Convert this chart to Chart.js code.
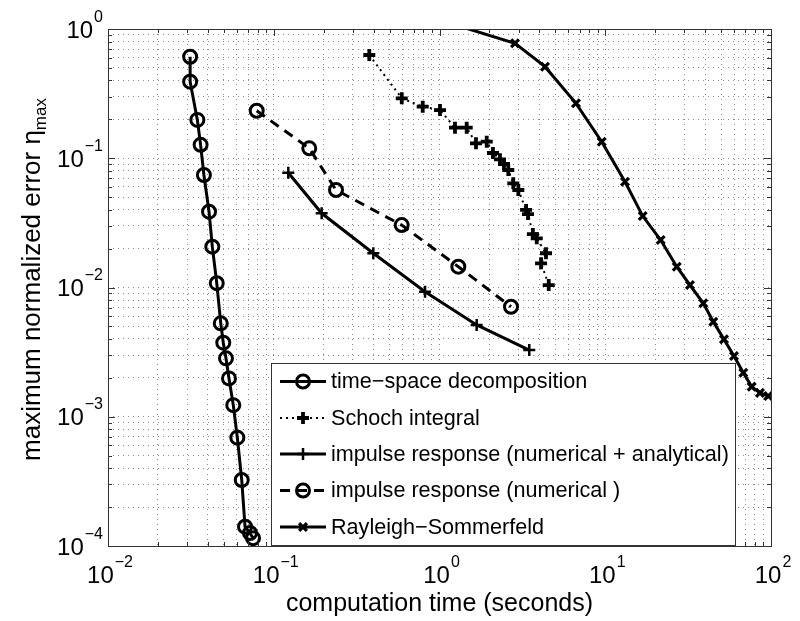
<!DOCTYPE html>
<html>
<head>
<meta charset="utf-8">
<script src="https://cdn.jsdelivr.net/npm/chart.js@4.4.0/dist/chart.umd.min.js"></script>
<style>
	html, body { margin:0; padding:0; background:#fff; }
	#wrap { width:800px; height:621px; }
</style>
</head>
<body>
<div id="wrap"><canvas id="errChart" width="800" height="621"></canvas></div>
<script>
// values (time in seconds, error eta_max)
const tsdTime = [0.0313, 0.0313, 0.0346, 0.0362, 0.0379, 0.0407, 0.0426, 0.0453, 0.0479, 0.0496, 0.0515, 0.0537, 0.0570, 0.0603, 0.0641, 0.0671, 0.0719, 0.0750];
const tsdErr = [0.61, 0.391, 0.198, 0.127, 0.0742, 0.0386, 0.0207, 0.0108, 0.00528, 0.00374, 0.00283, 0.00198, 0.00123, 0.000689, 0.000324, 0.000141, 0.000126, 0.000115];

const schochTime = [0.377, 0.592, 0.792, 1.007, 1.24, 1.459, 1.66, 1.927, 2.102, 2.317, 2.449, 2.60, 2.787, 2.99, 3.33, 3.42, 3.66, 3.86, 4.39, 4.10, 4.56];
const schochErr = [0.629, 0.291, 0.2505, 0.236, 0.1723, 0.1723, 0.1305, 0.1343, 0.1098, 0.0981, 0.0903, 0.0811, 0.064, 0.0568, 0.0398, 0.0370, 0.0259, 0.024, 0.0184, 0.01539, 0.01045];

const irnaTime = [0.1224, 0.1946, 0.3987, 0.818, 1.676, 3.48];
const irnaErr = [0.0773, 0.0375, 0.0184, 0.00928, 0.00513, 0.00328];

const irnTime = [0.0789, 0.1638, 0.2375, 0.5915, 1.299, 2.70];
const irnErr = [0.233, 0.1194, 0.0568, 0.0304, 0.01449, 0.0071];

// first point sits above the top of the axes (line enters from outside)
const rsTime = [0.762, 2.855, 4.33, 6.66, 9.52, 13.16, 16.83, 21.6, 27.0, 32.45, 39.06, 44.87, 52.05, 59.8, 68.07, 76.44, 85.8, 96.3];
const rsErr = [1.306, 0.775, 0.511, 0.266, 0.1343, 0.0658, 0.0357, 0.0233, 0.01449, 0.01045, 0.00755, 0.00544, 0.00397, 0.00295, 0.00219, 0.00171, 0.00153, 0.001447];

const seriesLabels = [
	'time\u2212space decomposition',
	'Schoch integral',
	'impulse response (numerical + analytical)',
	'impulse response (numerical )',
	'Rayleigh\u2212Sommerfeld'
];
const xExps = [-2, -1, 0, 1, 2];
const yExps = [-4, -3, -2, -1, 0];
const xTitle = 'computation time (seconds)';
const yTitle = 'maximum normalized error \u03b7';
const yTitleSub = 'max';

const FONT = '"Liberation Sans", Arial, Helvetica, sans-serif';
const INK = '#000';

function pts(xs, ys){ return xs.map((x, i) => ({ x: x, y: ys[i] })); }

function logTicks(lo, hi){
	const t = [];
	for(let e = lo; e < hi; e++){
		for(let m = 1; m <= 9; m++) t.push({ value: m * Math.pow(10, e) });
	}
	t.push({ value: Math.pow(10, hi) });
	return t;
}

// marker painter for the legend
function drawMarker(ctx, style, x, y, r, w){
	ctx.save();
	ctx.strokeStyle = INK;
	ctx.lineWidth = w;
	ctx.setLineDash([]);
	ctx.beginPath();
	if(style === 'circle'){
		ctx.arc(x, y, r, 0, Math.PI * 2);
	}else if(style === 'cross'){
		ctx.moveTo(x - r, y); ctx.lineTo(x + r, y);
		ctx.moveTo(x, y - r); ctx.lineTo(x, y + r);
	}else if(style === 'crossRot'){
		const d = r * 0.7071;
		ctx.moveTo(x - d, y - d); ctx.lineTo(x + d, y + d);
		ctx.moveTo(x - d, y + d); ctx.lineTo(x + d, y - d);
	}
	ctx.stroke();
	ctx.restore();
}

function expText(e){ return e < 0 ? '\u2212' + (-e) : String(e); }

// "10" with a raised exponent; yc = vertical centre of the "10"
function drawPow(ctx, e, x, yc, align){
	ctx.font = '24px ' + FONT;
	const bw = ctx.measureText('10').width;
	ctx.font = '16px ' + FONT;
	const es = expText(e);
	const ew = ctx.measureText(es).width;
	const total = bw + 1 + ew;
	const left = align === 'center' ? x - total / 2 : x - total;
	ctx.fillStyle = INK;
	ctx.textAlign = 'left';
	ctx.textBaseline = 'alphabetic';
	ctx.font = '24px ' + FONT;
	ctx.fillText('10', left, yc + 8.6);
	ctx.font = '16px ' + FONT;
	ctx.fillText(es, left + bw + 1, yc - 7.5);
}

const dressing = {
	id: 'dressing',
	afterDatasetsDraw(chart){
		const { ctx, chartArea: a, scales } = chart;
		ctx.save();
		// inward tick marks on all four sides
		ctx.strokeStyle = '#333';
		ctx.lineWidth = 1;
		ctx.beginPath();
		scales.x.ticks.forEach(t => {
			const px = Math.round(scales.x.getPixelForValue(t.value)) + 0.5;
			const major = Math.abs(Math.log10(t.value) % 1) < 1e-9;
			const len = major ? 7 : 4;
			ctx.moveTo(px, a.bottom); ctx.lineTo(px, a.bottom - len);
			ctx.moveTo(px, a.top); ctx.lineTo(px, a.top + len);
		});
		scales.y.ticks.forEach(t => {
			const py = Math.round(scales.y.getPixelForValue(t.value)) + 0.5;
			const major = Math.abs(Math.log10(t.value) % 1) < 1e-9;
			const len = major ? 7 : 4;
			ctx.moveTo(a.left, py); ctx.lineTo(a.left + len, py);
			ctx.moveTo(a.right, py); ctx.lineTo(a.right - len, py);
		});
		ctx.stroke();
		// axes box
		ctx.strokeRect(Math.round(a.left) + 0.5, Math.round(a.top) + 0.5, Math.round(a.right - a.left), Math.round(a.bottom - a.top));
		ctx.restore();
	},
	afterDraw(chart){
		const { ctx, chartArea: a, scales } = chart;
		ctx.save();

		// tick labels
		xExps.forEach(e => drawPow(ctx, e, scales.x.getPixelForValue(Math.pow(10, e)) + 2, a.bottom + 28, 'center'));
		yExps.forEach(e => drawPow(ctx, e, a.left - 5, scales.y.getPixelForValue(Math.pow(10, e)), 'right'));

		// x title
		ctx.fillStyle = INK;
		ctx.font = '25px ' + FONT;
		ctx.textAlign = 'center';
		ctx.textBaseline = 'alphabetic';
		ctx.fillText(xTitle, (a.left + a.right) / 2, 611);

		// y title with subscript
		ctx.save();
		ctx.font = '26px ' + FONT;
		const w1 = ctx.measureText(yTitle).width;
		ctx.font = '17px ' + FONT;
		const w2 = ctx.measureText(yTitleSub).width;
		const tot = w1 + w2;
		ctx.translate(40, (a.top + a.bottom) / 2 - 8);
		ctx.rotate(-Math.PI / 2);
		ctx.textAlign = 'left';
		ctx.font = '26px ' + FONT;
		ctx.fillText(yTitle, -tot / 2, 0);
		ctx.font = '17px ' + FONT;
		ctx.fillText(yTitleSub, -tot / 2 + w1, 6);
		ctx.restore();

		// legend box inside the axes
		const bx = 271, by = 363, bw = 464, bh = 182;
		ctx.fillStyle = '#fff';
		ctx.fillRect(bx, by, bw, bh);
		ctx.strokeStyle = '#333';
		ctx.lineWidth = 1;
		ctx.strokeRect(bx + 0.5, by + 0.5, bw, bh);
		const rowY = [381.5, 418, 454, 490.5, 527];
		const x0 = 280, x1 = 326, xm = 303;
		chart.data.datasets.forEach((ds, i) => {
			const y = rowY[i];
			ctx.save();
			ctx.strokeStyle = INK;
			ctx.lineWidth = ds.borderWidth;
			ctx.setLineDash(ds.borderDash || []);
			ctx.beginPath();
			ctx.moveTo(x0, y); ctx.lineTo(x1, y);
			ctx.stroke();
			ctx.restore();
			const r = Array.isArray(ds.pointRadius) ? ds.pointRadius[1] : ds.pointRadius;
			drawMarker(ctx, ds.pointStyle, xm, y, r, ds.pointBorderWidth);
			ctx.fillStyle = INK;
			ctx.font = '21.6px ' + FONT;
			ctx.textAlign = 'left';
			ctx.textBaseline = 'middle';
			ctx.fillText(seriesLabels[i], 331, y + 1);
		});
		ctx.restore();
	}
};

const base = { showLine: true, borderColor: INK, pointBorderColor: INK, pointBackgroundColor: 'rgba(0,0,0,0)', fill: false, tension: 0 };

new Chart(document.getElementById('errChart'), {
	type: 'scatter',
	data: {
		datasets: [
			Object.assign({}, base, { label: seriesLabels[0], data: pts(tsdTime, tsdErr), borderWidth: 3, pointStyle: 'circle', pointRadius: 6.5, pointBorderWidth: 3 }),
			Object.assign({}, base, { label: seriesLabels[1], data: pts(schochTime, schochErr), borderWidth: 2, borderDash: [2, 4], pointStyle: 'cross', pointRadius: 6, pointBorderWidth: 3.8 }),
			Object.assign({}, base, { label: seriesLabels[2], data: pts(irnaTime, irnaErr), borderWidth: 3, pointStyle: 'cross', pointRadius: 6, pointBorderWidth: 2.5 }),
			Object.assign({}, base, { label: seriesLabels[3], data: pts(irnTime, irnErr), borderWidth: 3, borderDash: [10, 7], pointStyle: 'circle', pointRadius: 6.5, pointBorderWidth: 3 }),
			Object.assign({}, base, { label: seriesLabels[4], data: pts(rsTime, rsErr), borderWidth: 3, pointStyle: 'crossRot', pointRadius: rsTime.map((t, i) => i === 0 ? 0 : 5.5), pointBorderWidth: 3.2 })
		]
	},
	options: {
		responsive: false,
		animation: false,
		events: [],
		layout: { padding: { left: 108, top: 29, right: 29, bottom: 75 } },
		plugins: { legend: { display: false }, tooltip: { enabled: false } },
		scales: {
			x: {
				type: 'logarithmic', min: 0.01, max: 100,
				afterBuildTicks: s => { s.ticks = logTicks(-2, 2); },
				ticks: { display: false },
				grid: { color: '#8a8a8a', lineWidth: 1, drawTicks: false },
				border: { display: false, dash: [1, 4] }
			},
			y: {
				type: 'logarithmic', min: 0.0001, max: 1,
				afterBuildTicks: s => { s.ticks = logTicks(-4, 0); },
				ticks: { display: false },
				grid: { color: '#8a8a8a', lineWidth: 1, drawTicks: false },
				border: { display: false, dash: [1, 4] }
			}
		}
	},
	plugins: [dressing]
});
</script>
</body>
</html>
